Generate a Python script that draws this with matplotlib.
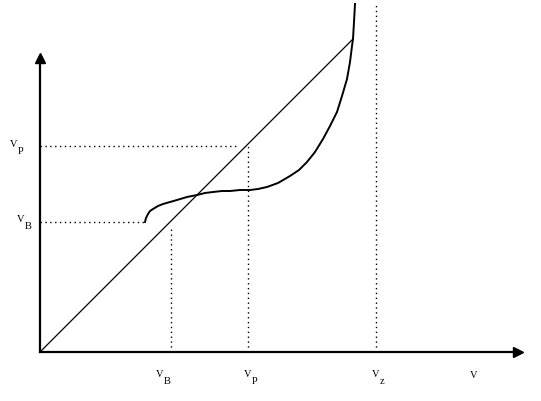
import matplotlib.pyplot as plt

# characteristic values (in chart units, origin at the axes corner)
v_b = 131
v_p = 207
v_z = 336
v_b_level = 130
v_p_level = 206
v_end = 313  # where diagonal and curve meet

# the S-shaped curve
curve_x = [105, 106, 108, 110, 113, 118, 123, 130, 137, 147, 157, 165, 173,
           182, 190, 200, 210, 218, 227, 238, 250, 259, 267, 275, 283, 290,
           297, 302, 307, 310, 312, 313, 314, 315]
curve_y = [130, 134, 138, 141, 143, 146, 148, 150, 152, 155, 157, 159, 160,
           161, 161, 162, 162, 163, 165, 169, 176, 182, 190, 200, 213, 226,
           240, 256, 273, 290, 306, 313, 330, 348]

plt.rcParams['font.family'] = ['Liberation Serif', 'DejaVu Serif']

fig = plt.figure(figsize=(5.41, 4.02), dpi=100)
ax = fig.add_axes([0, 0, 1, 1])
ax.set_xlim(-40, 501)
ax.set_ylim(-49, 353)
ax.axis('off')

# axes with arrow heads
ax.plot([0, 472], [0, 0], color='black', lw=1.6)
ax.plot([0, 0], [0, 290], color='black', lw=1.6)
ax.plot([478], [0], marker='>', color='black', markersize=7)
ax.plot([0], [294], marker='^', color='black', markersize=7)

# diagonal
ax.plot([0, v_end], [0, v_end], color='black', lw=0.9)

# curve
ax.plot(curve_x, curve_y, color='black', lw=1.4)

# dotted guide lines
dot = dict(color='black', lw=1.0, linestyle=(0, (1, 2.5)))
ax.plot([0, curve_x[0]], [v_b_level, v_b_level], **dot)
ax.plot([0, v_p - 8], [v_p_level, v_p_level], **dot)
ax.plot([v_b, v_b], [0, v_b - 5], **dot)
ax.plot([v_p + 1, v_p + 1], [0, v_p_level], **dot)
ax.plot([v_z, v_z], [0, 348], **dot)

# labels
fs = 7.5
def label(x, y, main, sub):
    ax.text(x, y, main, fontsize=fs, ha='left', va='baseline')
    if sub:
        ax.text(x + 8, y - 7, sub, fontsize=fs, ha='left', va='baseline')

label(-30, 206, 'V', 'P')
label(-23, 131, 'V', 'B')
label(v_b - 15, -24, 'V', 'B')
label(v_p - 3, -24, 'V', 'P')
label(v_z - 4, -24, 'V', 'z')
label(430, -25, 'V', '')

fig.savefig('out.png', dpi=100)
